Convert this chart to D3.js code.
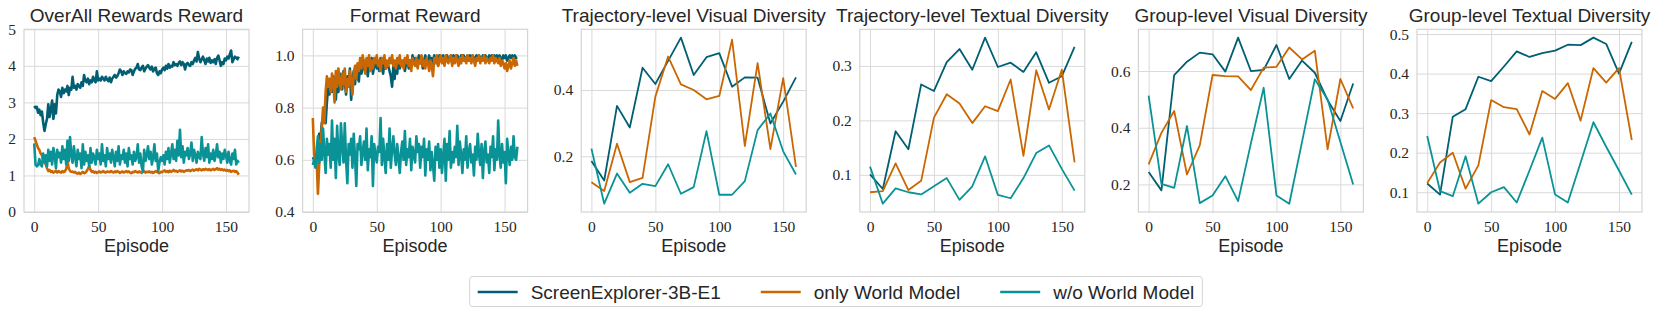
<!DOCTYPE html>
<html>
<head>
<meta charset="utf-8">
<script src="https://cdn.jsdelivr.net/npm/d3@7/dist/d3.min.js"></script>
<style>
    body { margin: 0; background: #fff; }
    .c-title { font-family: "Liberation Sans", Arial, sans-serif; font-size: 19px; fill: #262626; }
    .c-xlabel { font-family: "Liberation Sans", Arial, sans-serif; font-size: 18px; fill: #262626; }
    .c-axis text { font-family: "Liberation Serif", serif; font-size: 15.5px; fill: #262626; }
    .c-axis line { stroke: #d9d9d9; stroke-width: 1; }
    .c-axis path { display: none; }
    .c-legend text { font-family: "Liberation Sans", Arial, sans-serif; font-size: 19px; fill: #262626; }
</style>
</head>
<body>
<svg id="chart" width="1660" height="317"></svg>
<script>
// legend / series names
var series_names = ["ScreenExplorer-3B-E1", "only World Model", "w/o World Model"];
var series_colors = ["#005f73", "#ca6702", "#0a9396"];

var panel_titles = ["OverAll Rewards Reward", "Format Reward", "Trajectory-level Visual Diversity",
    "Trajectory-level Textual Diversity", "Group-level Visual Diversity", "Group-level Textual Diversity"];

var x_ticks = [0, 50, 100, 150];

// every episode 0..160
var reward_episodes = d3.range(0, 161);
// every 10 episodes
var diversity_episodes = d3.range(0, 161, 10);

// --- OverAll Rewards Reward
var overall_full = [
    2.90, 2.85, 2.88, 2.72, 2.80, 2.65, 2.75, 2.45, 2.22, 2.40,
    2.55, 2.95, 2.60, 2.80, 3.05, 2.55, 2.95, 2.70, 3.20, 3.35,
    3.30, 3.15, 3.40, 3.25, 3.35, 3.30, 3.45, 3.20, 3.40, 3.35,
    3.70, 3.40, 3.45, 3.35, 3.50, 3.45, 3.40, 3.55, 3.45, 3.75,
    3.60, 3.55, 3.65, 3.50, 3.60, 3.55, 3.70, 3.60, 3.55, 3.85,
    3.60, 3.65, 3.60, 3.70, 3.65, 3.60, 3.70, 3.62, 3.58, 3.68,
    3.55, 3.65, 3.70, 3.75, 3.68, 3.72, 3.80, 3.90, 3.85, 3.75,
    3.85, 3.80, 3.78, 3.85, 3.82, 3.90, 3.88, 3.75, 3.85, 3.92,
    3.95, 4.05, 3.90, 3.88, 3.95, 4.00, 3.85, 3.92, 3.98, 4.02,
    3.95, 3.90, 3.98, 3.85, 3.92, 3.95, 3.80, 3.75, 3.85, 3.80,
    3.90, 3.95, 3.88, 4.00, 3.92, 4.05, 3.95, 4.00, 3.98, 4.10,
    4.02, 4.05, 4.00, 4.08, 4.12, 4.02, 4.10, 4.05, 3.90, 4.05,
    4.08, 4.02, 4.00, 4.10, 4.05, 4.15, 4.22, 4.12, 4.38, 4.20,
    4.10, 4.18, 4.25, 4.15, 4.05, 4.20, 4.12, 4.22, 4.08, 4.15,
    4.10, 4.18, 4.05, 4.22, 4.28, 4.15, 4.00, 4.10, 4.05, 4.20,
    4.15, 4.25, 4.20, 4.32, 4.42, 4.10, 4.18, 4.25, 4.22, 4.18,
    4.25
];
var overall_only_wm = [
    2.05, 1.95, 1.85, 1.75, 1.70, 1.60, 1.55, 1.45, 1.40, 1.30,
    1.20, 1.12, 1.15, 1.10, 1.12, 1.08, 1.10, 1.13, 1.08, 1.12,
    1.10, 1.08, 1.12, 1.09, 1.11, 1.18, 1.38, 1.20, 1.12, 1.10,
    1.11, 1.08, 1.10, 1.06, 1.05, 1.08, 1.04, 1.07, 1.10, 1.06,
    1.08, 1.12, 1.18, 1.26, 1.15, 1.10, 1.12, 1.08, 1.10, 1.07,
    1.09, 1.11, 1.08, 1.10, 1.12, 1.09, 1.08, 1.11, 1.10, 1.09,
    1.12, 1.10, 1.08, 1.11, 1.09, 1.12, 1.10, 1.07, 1.09, 1.11,
    1.08, 1.10, 1.12, 1.09, 1.11, 1.08, 1.06, 1.10, 1.09, 1.12,
    1.10, 1.08, 1.11, 1.09, 1.07, 1.10, 1.12, 1.08, 1.10, 1.09,
    1.11, 1.08, 1.10, 1.07, 1.09, 1.12, 1.10, 1.08, 1.06, 1.10,
    1.09, 1.11, 1.14, 1.10, 1.12, 1.09, 1.13, 1.10, 1.12, 1.15,
    1.11, 1.13, 1.10, 1.12, 1.14, 1.11, 1.13, 1.10, 1.12, 1.14,
    1.13, 1.15, 1.12, 1.14, 1.16, 1.13, 1.15, 1.17, 1.14, 1.18,
    1.16, 1.14, 1.17, 1.15, 1.18, 1.16, 1.15, 1.17, 1.14, 1.16,
    1.18, 1.15, 1.17, 1.20, 1.16, 1.18, 1.15, 1.17, 1.14, 1.16,
    1.13, 1.15, 1.12, 1.14, 1.10, 1.12, 1.13, 1.10, 1.12, 1.08,
    1.02
];
var overall_no_wm = [
    1.88, 1.30, 1.25, 1.28, 1.45, 1.30, 1.25, 1.60, 1.35, 1.55,
    1.25, 1.70, 1.40, 1.65, 1.30, 1.75, 1.55, 1.20, 1.70, 1.50,
    1.62, 1.35, 1.80, 1.45, 1.70, 1.30, 1.95, 1.40, 2.05, 1.55,
    1.35, 1.80, 1.50, 1.25, 1.70, 1.45, 1.60, 1.20, 1.85, 1.30,
    1.65, 1.40, 1.55, 1.25, 1.75, 1.35, 1.60, 1.50, 1.30, 1.70,
    1.45, 1.60, 1.30, 1.85, 1.40, 1.55, 1.25, 1.75, 1.45, 1.60,
    1.35, 1.70, 1.50, 1.25, 1.65, 1.40, 1.80, 1.30, 1.55, 1.45,
    1.70, 1.35, 1.60, 1.25, 1.75, 1.45, 1.55, 1.30, 1.65, 1.40,
    1.50, 1.85, 1.35, 1.60, 1.25, 1.10, 1.70, 1.40, 1.55, 1.80,
    1.45, 1.65, 1.30, 1.50, 1.85, 1.40, 1.60, 1.12, 1.35, 1.50,
    1.40, 1.55, 1.30, 1.65, 1.45, 1.75, 1.35, 1.60, 1.85, 1.45,
    1.70, 1.40, 1.95, 1.55, 2.25, 1.50, 1.80, 1.35, 1.65, 1.55,
    1.75, 1.45, 1.60, 1.90, 1.40, 1.70, 1.55, 1.35, 1.65, 1.50,
    1.45, 2.05, 1.60, 1.40, 1.75, 1.50, 1.85, 1.35, 1.60, 1.45,
    1.70, 1.40, 1.55, 1.85, 1.50, 1.65, 1.35, 1.60, 1.45, 1.70,
    1.55, 1.35, 1.65, 1.40, 1.30, 1.60, 1.45, 1.70, 1.30, 1.40,
    1.35
];
var overall_y_ticks = [0, 1, 2, 3, 4, 5];

// --- Format Reward
var format_full = [
    0.61, 0.60, 0.62, 0.58, 0.66, 0.70, 0.68, 0.74, 0.76, 0.80,
    0.74, 0.82, 0.88, 0.85, 0.90, 0.86, 0.92, 0.88, 0.83, 0.91,
    0.86, 0.93, 0.89, 0.87, 0.94, 0.90, 0.85, 0.92, 0.88, 0.95,
    0.83, 0.91, 0.94, 0.89, 0.96, 0.92, 0.90, 0.97, 0.93, 0.95,
    0.98, 0.94, 0.96, 0.92, 0.97, 0.95, 0.99, 0.93, 0.96, 0.98,
    0.95, 0.97, 0.94, 0.99, 0.96, 0.93, 0.98, 0.95, 0.97, 0.96,
    0.94, 0.92, 0.88, 0.96, 0.91, 0.97, 0.93, 0.99, 0.95, 0.97,
    0.96, 0.98, 0.94, 0.97, 0.99, 0.95, 0.98, 0.96, 1.00, 0.97,
    0.99, 0.96, 0.98, 1.00, 0.97, 0.99, 0.95, 0.98, 1.00, 0.97,
    0.98, 1.00, 0.96, 0.99, 0.97, 1.00, 0.98, 0.99, 0.96, 1.00,
    0.99, 0.98, 1.00, 0.97, 0.99, 1.00, 0.98, 0.99, 1.00, 0.97,
    1.00, 0.99, 0.98, 1.00, 0.99, 0.97, 1.00, 0.99, 1.00, 0.98,
    0.99, 1.00, 0.98, 1.00, 0.99, 1.00, 0.98, 0.99, 1.00, 0.99,
    1.00, 0.99, 0.98, 1.00, 0.99, 1.00, 0.99, 0.98, 1.00, 0.99,
    1.00, 0.99, 1.00, 0.98, 1.00, 0.99, 1.00, 0.99, 0.98, 1.00,
    0.99, 1.00, 0.98, 0.99, 1.00, 0.99, 1.00, 0.98, 1.00, 0.99,
    0.99
];
var format_only_wm = [
    0.76, 0.62, 0.58, 0.60, 0.47, 0.58, 0.66, 0.72, 0.80, 0.74,
    0.86, 0.92, 0.88, 0.91, 0.86, 0.93, 0.90, 0.82, 0.94, 0.88,
    0.95, 0.90, 0.87, 0.93, 0.89, 0.95, 0.86, 0.91, 0.88, 0.94,
    0.90, 0.85, 0.93, 0.96, 0.91, 0.97, 0.94, 0.99, 0.95, 1.00,
    0.97, 0.93, 0.99, 0.96, 1.00, 0.94, 0.98, 0.95, 0.99, 0.97,
    1.00, 0.96, 0.98, 0.94, 0.99, 0.97, 1.00, 0.95, 0.98, 0.96,
    0.99, 0.97, 1.00, 0.96, 0.98, 0.95, 0.99, 0.97, 1.00, 0.96,
    0.98, 0.95, 0.99, 0.97, 1.00, 0.96, 0.98, 0.94, 0.99, 0.97,
    0.96, 0.99, 0.95, 0.98, 0.97, 1.00, 0.96, 0.98, 0.95, 0.99,
    0.97, 0.94, 0.98, 0.96, 0.92, 0.99, 0.97, 1.00, 0.96, 0.98,
    1.00, 0.97, 0.99, 0.96, 1.00, 0.98, 0.97, 0.99, 1.00, 0.96,
    0.99, 0.97, 1.00, 0.98, 0.96, 0.99, 0.97, 1.00, 0.98, 0.99,
    0.97, 1.00, 0.98, 0.99, 0.97, 1.00, 0.98, 0.96, 0.99, 0.98,
    1.00, 0.97, 0.99, 0.98, 1.00, 0.97, 0.99, 0.98, 0.97, 0.99,
    0.98, 1.00, 0.97, 0.99, 0.98, 0.97, 0.99, 0.96, 0.98, 0.97,
    0.95, 0.97, 0.94, 0.96, 0.98, 0.95, 0.97, 0.99, 0.96, 0.98,
    0.96
];
var format_no_wm = [
    0.58, 0.60, 0.57, 0.64, 0.69, 0.59, 0.66, 0.60, 0.72, 0.63,
    0.55, 0.68, 0.62, 0.66, 0.57, 0.75, 0.60, 0.68, 0.53, 0.73,
    0.62, 0.58, 0.74, 0.65, 0.59, 0.74, 0.60, 0.51, 0.66, 0.62,
    0.68, 0.57, 0.70, 0.61, 0.50, 0.66, 0.64, 0.69, 0.58, 0.63,
    0.67, 0.60, 0.72, 0.56, 0.64, 0.61, 0.69, 0.50, 0.66, 0.62,
    0.59, 0.65, 0.63, 0.76, 0.58, 0.68, 0.61, 0.55, 0.66, 0.60,
    0.72, 0.57, 0.64, 0.69, 0.62, 0.58, 0.66, 0.61, 0.55, 0.63,
    0.67, 0.60, 0.71, 0.58, 0.64, 0.61, 0.68, 0.56, 0.65, 0.62,
    0.59, 0.69, 0.63, 0.66, 0.57, 0.65, 0.61, 0.68, 0.54, 0.64,
    0.60, 0.67, 0.56, 0.63, 0.58, 0.52, 0.65, 0.60, 0.66, 0.57,
    0.64, 0.55, 0.62, 0.68, 0.52, 0.66, 0.60, 0.71, 0.57, 0.63,
    0.59, 0.65, 0.61, 0.73, 0.58, 0.67, 0.62, 0.55, 0.64, 0.60,
    0.69, 0.57, 0.63, 0.66, 0.59, 0.62, 0.54, 0.65, 0.60, 0.70,
    0.62, 0.58, 0.66, 0.53, 0.63, 0.67, 0.59, 0.62, 0.55, 0.65,
    0.61, 0.69, 0.56, 0.64, 0.60, 0.75, 0.62, 0.57, 0.66, 0.59,
    0.63, 0.51, 0.68, 0.62, 0.58, 0.65, 0.60, 0.69, 0.61, 0.60,
    0.65
];
var format_y_ticks = [0.4, 0.6, 0.8, 1.0];

// --- Trajectory-level Visual Diversity
var traj_vis_full =    [0.186, 0.127, 0.352, 0.287, 0.467, 0.418, 0.488, 0.558, 0.445, 0.499, 0.511, 0.410, 0.438, 0.437, 0.299, 0.365, 0.438];
var traj_vis_only_wm = [0.122, 0.095, 0.238, 0.122, 0.135, 0.380, 0.501, 0.417, 0.400, 0.372, 0.382, 0.552, 0.231, 0.481, 0.222, 0.436, 0.168];
var traj_vis_no_wm =   [0.223, 0.057, 0.148, 0.090, 0.117, 0.110, 0.176, 0.087, 0.107, 0.276, 0.084, 0.084, 0.125, 0.279, 0.329, 0.215, 0.145];
var traj_vis_y_ticks = [0.2, 0.4];

// --- Trajectory-level Textual Diversity
var traj_txt_full =    [0.101, 0.074, 0.180, 0.147, 0.266, 0.254, 0.307, 0.331, 0.293, 0.352, 0.298, 0.306, 0.289, 0.325, 0.269, 0.281, 0.335];
var traj_txt_only_wm = [0.068, 0.070, 0.121, 0.072, 0.089, 0.205, 0.248, 0.231, 0.195, 0.226, 0.217, 0.275, 0.135, 0.292, 0.220, 0.293, 0.123];
var traj_txt_no_wm =   [0.115, 0.047, 0.075, 0.068, 0.064, 0.079, 0.094, 0.054, 0.079, 0.134, 0.063, 0.057, 0.094, 0.140, 0.154, 0.111, 0.071];
var traj_txt_y_ticks = [0.1, 0.2, 0.3];

// --- Group-level Visual Diversity
var group_vis_full =    [0.244, 0.179, 0.586, 0.633, 0.665, 0.659, 0.598, 0.718, 0.600, 0.604, 0.692, 0.572, 0.637, 0.594, 0.497, 0.424, 0.556];
var group_vis_only_wm = [0.271, 0.382, 0.459, 0.235, 0.338, 0.586, 0.582, 0.581, 0.533, 0.612, 0.615, 0.683, 0.641, 0.672, 0.324, 0.572, 0.468];
var group_vis_no_wm =   [0.513, 0.202, 0.188, 0.406, 0.134, 0.161, 0.229, 0.141, 0.345, 0.541, 0.161, 0.132, 0.350, 0.571, 0.500, 0.350, 0.200];
var group_vis_y_ticks = [0.2, 0.4, 0.6];

// --- Group-level Textual Diversity
var group_txt_full =    [0.122, 0.094, 0.291, 0.310, 0.392, 0.381, 0.418, 0.456, 0.442, 0.452, 0.458, 0.473, 0.472, 0.491, 0.475, 0.400, 0.480];
var group_txt_only_wm = [0.123, 0.175, 0.200, 0.109, 0.168, 0.333, 0.315, 0.310, 0.246, 0.356, 0.336, 0.376, 0.281, 0.414, 0.377, 0.414, 0.232];
var group_txt_no_wm =   [0.242, 0.103, 0.090, 0.191, 0.071, 0.100, 0.113, 0.074, 0.155, 0.238, 0.094, 0.074, 0.175, 0.277, 0.215, 0.155, 0.094];
var group_txt_y_ticks = [0.1, 0.2, 0.3, 0.4, 0.5];

var panels = [
    { x: reward_episodes, ys: [overall_full, overall_only_wm, overall_no_wm], ticks: overall_y_ticks, domain: [0, 5], fmt: "d", width: 2.6 },
    { x: reward_episodes, ys: [format_full, format_only_wm, format_no_wm], ticks: format_y_ticks, domain: [0.4, 1.1], fmt: ".1f", width: 2.6 },
    { x: diversity_episodes, ys: [traj_vis_full, traj_vis_only_wm, traj_vis_no_wm], ticks: traj_vis_y_ticks, fmt: ".1f", width: 1.8 },
    { x: diversity_episodes, ys: [traj_txt_full, traj_txt_only_wm, traj_txt_no_wm], ticks: traj_txt_y_ticks, fmt: ".1f", width: 1.8 },
    { x: diversity_episodes, ys: [group_vis_full, group_vis_only_wm, group_vis_no_wm], ticks: group_vis_y_ticks, fmt: ".1f", width: 1.8 },
    { x: diversity_episodes, ys: [group_txt_full, group_txt_only_wm, group_txt_no_wm], ticks: group_txt_y_ticks, fmt: ".1f", width: 1.8 }
];

( function(d3) {
    var svg = d3.select("#chart");

    var panel_left = 24,
        panel_step = 278.6,
        panel_w = 225,
        panel_top = 29.3,
        panel_h = 182.7;

    panels.forEach(function(p, i) {
        var g = svg.append("g")
            .attr("transform", "translate(" + (panel_left + i * panel_step) + "," + panel_top + ")");

        // matplotlib style 5% margins
        var x = d3.scaleLinear().domain([-8, 168]).range([0, panel_w]);

        var domain = p.domain;
        if (!domain) {
            var all = d3.merge(p.ys),
                lo = d3.min(all),
                hi = d3.max(all),
                pad = (hi - lo) * 0.05;
            domain = [lo - pad, hi + pad];
        }
        var y = d3.scaleLinear().domain(domain).range([panel_h, 0]);

        g.append("g")
            .attr("class", "c-axis")
            .attr("transform", "translate(0," + panel_h + ")")
            .call(d3.axisBottom(x).tickValues(x_ticks).tickSize(-panel_h).tickPadding(9).tickFormat(d3.format("d")))
            .attr("font-family", "Liberation Serif");

        g.append("g")
            .attr("class", "c-axis")
            .call(d3.axisLeft(y).tickValues(p.ticks).tickSize(-panel_w).tickPadding(8).tickFormat(d3.format(p.fmt)))
            .attr("font-family", "Liberation Serif");

        // spines
        g.append("rect")
            .attr("width", panel_w)
            .attr("height", panel_h)
            .attr("fill", "none")
            .attr("stroke", "#d4d4d4")
            .attr("stroke-width", 1.2);

        var clip_id = "clip-" + i;
        g.append("clipPath").attr("id", clip_id)
            .append("rect").attr("width", panel_w).attr("height", panel_h);

        var line = d3.line()
            .x(function(d, k) { return x(p.x[k]); })
            .y(function(d) { return y(d); });

        p.ys.forEach(function(values, s) {
            g.append("path")
                .datum(values)
                .attr("clip-path", "url(#" + clip_id + ")")
                .attr("fill", "none")
                .attr("stroke", series_colors[s])
                .attr("stroke-width", p.width)
                .attr("stroke-linejoin", "round")
                .attr("d", line);
        });

        g.append("text")
            .attr("class", "c-title")
            .attr("x", panel_w / 2)
            .attr("y", -7)
            .attr("text-anchor", "middle")
            .text(panel_titles[i]);

        g.append("text")
            .attr("class", "c-xlabel")
            .attr("x", panel_w / 2)
            .attr("y", 222.5)
            .attr("text-anchor", "middle")
            .text("Episode");
    });

    // legend
    var legend = svg.append("g").attr("class", "c-legend");
    var box = legend.append("rect")
        .attr("rx", 3)
        .attr("fill", "#fff")
        .attr("stroke", "#d4d4d4")
        .attr("stroke-width", 1);

    var handle_w = 40,
        handle_gap = 13,
        col_gap = 40,
        pad_x = 8,
        cursor = 0,
        line_y = 292;

    series_names.forEach(function(name, s) {
        legend.append("line")
            .attr("x1", cursor).attr("x2", cursor + handle_w)
            .attr("y1", line_y).attr("y2", line_y)
            .attr("stroke", series_colors[s])
            .attr("stroke-width", 2.6);
        var t = legend.append("text")
            .attr("x", cursor + handle_w + handle_gap)
            .attr("y", line_y + 7)
            .text(name);
        cursor += handle_w + handle_gap + t.node().getComputedTextLength();
        if (s < series_names.length - 1) cursor += col_gap;
    });

    var total = cursor + 2 * pad_x,
        left = 836 - total / 2;
    box.attr("x", -pad_x).attr("y", 276.5).attr("width", total).attr("height", 30);
    legend.attr("transform", "translate(" + (left + pad_x) + ",0)");
})(d3);
</script>
</body>
</html>
